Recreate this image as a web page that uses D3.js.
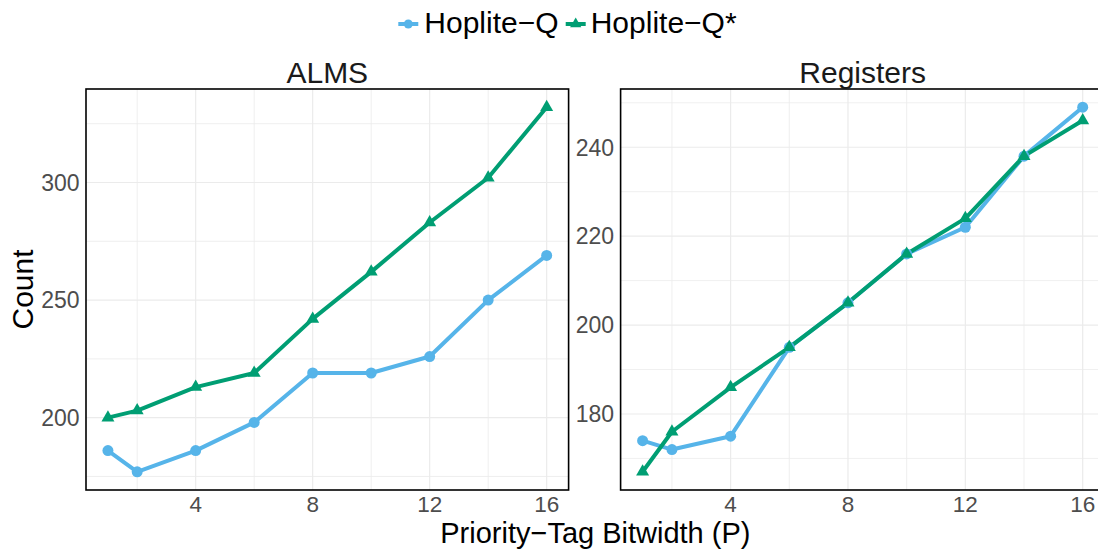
<!DOCTYPE html>
<html>
<head>
<meta charset="utf-8">
<script src="https://cdn.jsdelivr.net/npm/d3@7"></script>
<style>
  html, body { margin: 0; padding: 0; background: #fff; }
  svg { display: block; font-family: "Liberation Sans", Arial, Helvetica, sans-serif; }
</style>
</head>
<body>
<svg id="chart" width="1098" height="549"></svg>
<script>
// ---- data ----
const xValues = [1, 2, 4, 6, 8, 10, 12, 14, 16];
const almsHopliteQ = [186, 177, 186, 198, 219, 219, 226, 250, 269];
const almsHopliteQStar = [200, 203, 213, 219, 242, 262, 283, 302, 332];
const regHopliteQ = [174, 172, 175, 195, 205, 216, 222, 238, 249];
const regHopliteQStar = [167, 176, 186, 195, 205, 216, 224, 238, 246];
const panelTitles = ["ALMS", "Registers"];
const seriesNames = ["Hoplite\u2212Q", "Hoplite\u2212Q*"];
const xTicks = [4, 8, 12, 16];
const xMinorTicks = [2, 6, 10, 14];
const almsYTicks = [200, 250, 300];
const almsYMinor = [175, 225, 275, 325];
const regYTicks = [180, 200, 220, 240];
const regYMinor = [170, 190, 210, 230, 250];
const xAxisTitle = "Priority\u2212Tag Bitwidth (P)";
const yAxisTitle = "Count";

// ---- styles ----
const colors = ["#56B4E9", "#009E73"];
const svg = d3.select("#chart");
const plotTop = 89, plotBottom = 490;

const panels = [
  { title: panelTitles[0], series: [almsHopliteQ, almsHopliteQStar], ticks: almsYTicks, minor: almsYMinor, x0: 86, x1: 568.6 },
  { title: panelTitles[1], series: [regHopliteQ, regHopliteQStar], ticks: regYTicks, minor: regYMinor, x0: 620.6, x1: 1104.7 }
];

function expand(ext) { const r = ext[1] - ext[0]; return [ext[0] - 0.05 * r, ext[1] + 0.05 * r]; }

function triPath(r) {
  const h = r, yc = r / 2, xc = r * Math.sqrt(3) / 2;
  return `M0,${-h}L${xc},${yc}L${-xc},${yc}Z`;
}

panels.forEach(p => {
  const x = d3.scaleLinear().domain(expand(d3.extent(xValues))).range([p.x0, p.x1]);
  const all = p.series.flat();
  const y = d3.scaleLinear().domain(expand(d3.extent(all))).range([plotBottom, plotTop]);
  const g = svg.append("g");

  // grid
  g.selectAll(".vmin").data(xMinorTicks).join("line")
    .attr("x1", d => x(d)).attr("x2", d => x(d)).attr("y1", plotTop).attr("y2", plotBottom)
    .attr("stroke", "#EBEBEB").attr("stroke-width", 0.8);
  g.selectAll(".hmin").data(p.minor).join("line")
    .attr("y1", d => y(d)).attr("y2", d => y(d)).attr("x1", p.x0).attr("x2", p.x1)
    .attr("stroke", "#EBEBEB").attr("stroke-width", 0.8);
  g.selectAll(".vmaj").data(xTicks).join("line")
    .attr("x1", d => x(d)).attr("x2", d => x(d)).attr("y1", plotTop).attr("y2", plotBottom)
    .attr("stroke", "#EBEBEB").attr("stroke-width", 1.2);
  g.selectAll(".hmaj").data(p.ticks).join("line")
    .attr("y1", d => y(d)).attr("y2", d => y(d)).attr("x1", p.x0).attr("x2", p.x1)
    .attr("stroke", "#EBEBEB").attr("stroke-width", 1.2);

  // lines
  const line = d3.line().x((d, i) => x(xValues[i])).y(d => y(d));
  p.series.forEach((s, si) => {
    g.append("path").datum(s).attr("d", line)
      .attr("fill", "none").attr("stroke", colors[si]).attr("stroke-width", 4)
      .attr("stroke-linejoin", "round");
  });
  // points
  g.selectAll(".pt0").data(p.series[0]).join("circle")
    .attr("cx", (d, i) => x(xValues[i])).attr("cy", d => y(d)).attr("r", 5.5)
    .attr("fill", colors[0]);
  g.selectAll(".pt1").data(p.series[1]).join("path")
    .attr("d", triPath(7.5))
    .attr("transform", (d, i) => `translate(${x(xValues[i])},${y(d)})`)
    .attr("fill", colors[1]);

  // border
  g.append("rect").attr("x", p.x0).attr("y", plotTop).attr("width", p.x1 - p.x0).attr("height", plotBottom - plotTop)
    .attr("fill", "none").attr("stroke", "#000").attr("stroke-width", 1.6);

  // y tick labels
  g.selectAll(".yt").data(p.ticks).join("text")
    .attr("x", p.x0 - 6.5).attr("y", d => y(d)).attr("dy", "0.36em")
    .attr("text-anchor", "end").attr("font-size", 23).attr("fill", "#4D4D4D")
    .text(d => d);
  // x tick labels
  g.selectAll(".xt").data(xTicks).join("text")
    .attr("x", d => x(d)).attr("y", 511.8)
    .attr("text-anchor", "middle").attr("font-size", 22.5).attr("fill", "#4D4D4D")
    .text(d => d);
  // panel title
  g.append("text").attr("x", (p.x0 + p.x1) / 2).attr("y", 83.3)
    .attr("text-anchor", "middle").attr("font-size", 30).attr("fill", "#1A1A1A")
    .text(p.title);
});

// axis titles
svg.append("text").attr("x", (86 + 1104.7) / 2).attr("y", 542.8)
  .attr("text-anchor", "middle").attr("font-size", 29).attr("fill", "#000")
  .text(xAxisTitle);
svg.append("text").attr("transform", `translate(33,${(plotTop + plotBottom) / 2}) rotate(-90)`)
  .attr("text-anchor", "middle").attr("font-size", 30).attr("fill", "#000")
  .text(yAxisTitle);

// legend
const legendItems = [
  { name: seriesNames[0], kx: 398.3, tx: 424.3 },
  { name: seriesNames[1], kx: 565.7, tx: 590.7 }
];
legendItems.forEach((it, i) => {
  const lg = svg.append("g");
  lg.append("line").attr("x1", it.kx).attr("x2", it.kx + 20).attr("y1", 24).attr("y2", 24)
    .attr("stroke", colors[i]).attr("stroke-width", 4);
  if (i === 0) {
    lg.append("circle").attr("cx", it.kx + 10).attr("cy", 24).attr("r", 4.5).attr("fill", colors[i]);
  } else {
    lg.append("path").attr("d", triPath(6.5)).attr("transform", `translate(${it.kx + 10},24)`).attr("fill", colors[i]);
  }
  lg.append("text").attr("x", it.tx).attr("y", 33.3).attr("font-size", 30).attr("fill", "#000").text(it.name);
});
</script>
</body>
</html>
